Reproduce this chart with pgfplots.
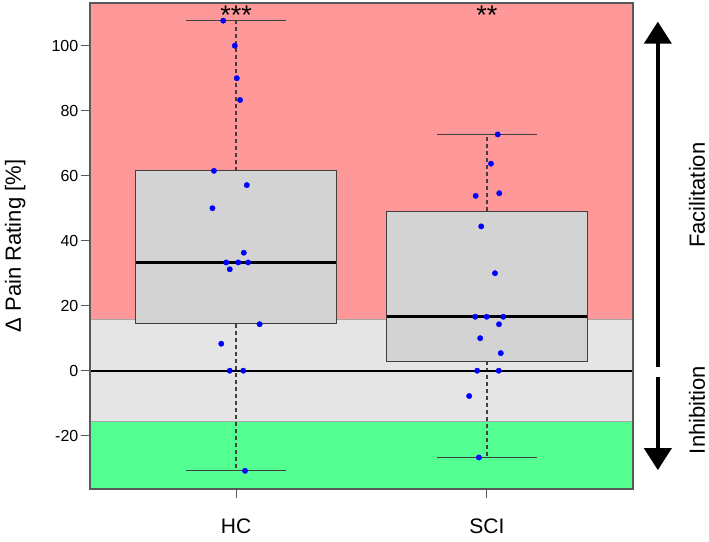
\documentclass[border=0pt]{standalone}
\usepackage{fontspec}
\setmainfont{Liberation Sans}
\usepackage{pgfplots}
\pgfplotsset{compat=1.18}
\usetikzlibrary{arrows.meta}

\definecolor{bandRed}{RGB}{255,153,153}
\definecolor{bandGray}{RGB}{229,229,229}
\definecolor{bandGreen}{RGB}{84,255,146}
\definecolor{boxFill}{RGB}{211,211,211}
\definecolor{boxLine}{RGB}{64,64,64}

\begin{document}
\begin{tikzpicture}
\begin{axis}[
    scale only axis,
    width=543pt, height=486pt,
    xmin=0.418, xmax=2.582,
    ymin=-36.4, ymax=113.14,
    xtick={1,2}, xticklabels={HC,SCI},
    ytick={-20,0,20,40,60,80,100},
    tick align=outside,
    major tick length=9pt,
    xtick pos=bottom, ytick pos=left,
    tick style={draw=black!65, line width=1pt},
    axis line style={draw=black!65, line width=1.5pt},
    axis on top,
    clip=false,
    /pgf/number format/assume math mode=true,
    yticklabel style={font=\fontsize{16}{16}\selectfont, inner sep=0pt, anchor=east, xshift=-2.5pt},
    xticklabel style={font=\fontsize{21}{21}\selectfont, inner sep=0pt, anchor=base, yshift=-35.5pt},
    ylabel={Δ Pain Rating [\%]},
    every axis y label/.style={at={(axis description cs:-0.138,0.5)}, rotate=90, anchor=center,
        font=\fontsize{22}{22}\selectfont},
]
\coordinate (sw) at (rel axis cs:0,0);
\coordinate (ne) at (rel axis cs:1,1);

% background bands
\addplot[fill=bandRed, draw=none] coordinates {(0.418,15.7) (2.582,15.7) (2.582,113.14) (0.418,113.14)} -- cycle;
\addplot[fill=bandGreen, draw=none] coordinates {(0.418,-36.4) (2.582,-36.4) (2.582,-15.7) (0.418,-15.7)} -- cycle;
\addplot[fill=bandGray, draw=black!35, line width=0.8pt] coordinates {(0.418,-15.7) (2.582,-15.7) (2.582,15.7) (0.418,15.7)} -- cycle;

% whiskers (dashed) and caps
\addplot[boxLine, line width=1.1pt, dash pattern=on 4pt off 3pt] coordinates {(1,61.5) (1,107.7)};
\addplot[boxLine, line width=1.1pt, dash pattern=on 4pt off 3pt] coordinates {(1,14.4) (1,-30.8)};
\addplot[boxLine, line width=1.1pt, dash pattern=on 4pt off 3pt] coordinates {(2,49.1) (2,72.7)};
\addplot[boxLine, line width=1.1pt, dash pattern=on 4pt off 3pt] coordinates {(2,2.9) (2,-26.7)};
\addplot[boxLine, line width=1.1pt] coordinates {(0.8,107.7) (1.2,107.7)};
\addplot[boxLine, line width=1.1pt] coordinates {(0.8,-30.8) (1.2,-30.8)};
\addplot[boxLine, line width=1.1pt] coordinates {(1.8,72.7) (2.2,72.7)};
\addplot[boxLine, line width=1.1pt] coordinates {(1.8,-26.7) (2.2,-26.7)};

% zero line
\addplot[black, line width=2pt] coordinates {(0.418,0) (2.582,0)};

% boxes
\addplot[fill=boxFill, draw=boxLine, line width=1.1pt] coordinates {(0.6,14.4) (1.4,14.4) (1.4,61.5) (0.6,61.5)} -- cycle;
\addplot[fill=boxFill, draw=boxLine, line width=1.1pt] coordinates {(1.6,2.9) (2.4,2.9) (2.4,49.1) (1.6,49.1)} -- cycle;

% medians
\addplot[black, line width=3pt] coordinates {(0.6,33.4) (1.4,33.4)};
\addplot[black, line width=3pt] coordinates {(1.6,16.6) (2.4,16.6)};

% individual values
\addplot[only marks, mark=*, mark size=2.7pt, mark options={draw=blue, fill=blue}] coordinates {
    (0.949,107.7) (0.995,100) (1.003,90) (1.016,83.3) (0.912,61.5) (1.043,57.1)
    (0.906,50) (1.031,36.3) (0.961,33.3) (1.009,33.3) (1.048,33.3) (0.975,31.2)
    (1.094,14.3) (0.941,8.3) (0.975,0) (1.029,0) (1.036,-30.8)
};
\addplot[only marks, mark=*, mark size=2.7pt, mark options={draw=blue, fill=blue}] coordinates {
    (2.043,72.7) (2.016,63.7) (1.955,53.8) (2.049,54.6) (1.977,44.4) (2.032,30.0)
    (1.953,16.6) (1.999,16.6) (2.065,16.6) (2.048,14.3) (1.973,10.0) (2.055,5.4)
    (1.961,0) (2.047,0) (1.929,-7.8) (1.968,-26.7)
};

% significance
\node[anchor=base, inner sep=0pt, font=\fontsize{27}{27}\selectfont] at (axis cs:1,106.4) {***};
\node[anchor=base, inner sep=0pt, font=\fontsize{27}{27}\selectfont] at (axis cs:2,106.4) {**};

% direction arrows
\draw[line width=4pt, -{Triangle[width=27pt,length=22pt]}] (axis cs:2.681,1.1) -- (axis cs:2.681,107.4);
\draw[line width=4pt, -{Triangle[width=27pt,length=22pt]}] (axis cs:2.681,-1.8) -- (axis cs:2.681,-30.6);
\node[rotate=90, anchor=center, font=\fontsize{22}{22}\selectfont] at (axis cs:2.837,54.0) {Facilitation};
\node[rotate=90, anchor=center, font=\fontsize{22}{22}\selectfont] at (axis cs:2.837,-12.1) {Inhibition};
\end{axis}
\pgfresetboundingbox
\path ([shift={(-90pt,-53pt)}]sw) rectangle ([shift={(76pt,3pt)}]ne);
\end{tikzpicture}
\end{document}
